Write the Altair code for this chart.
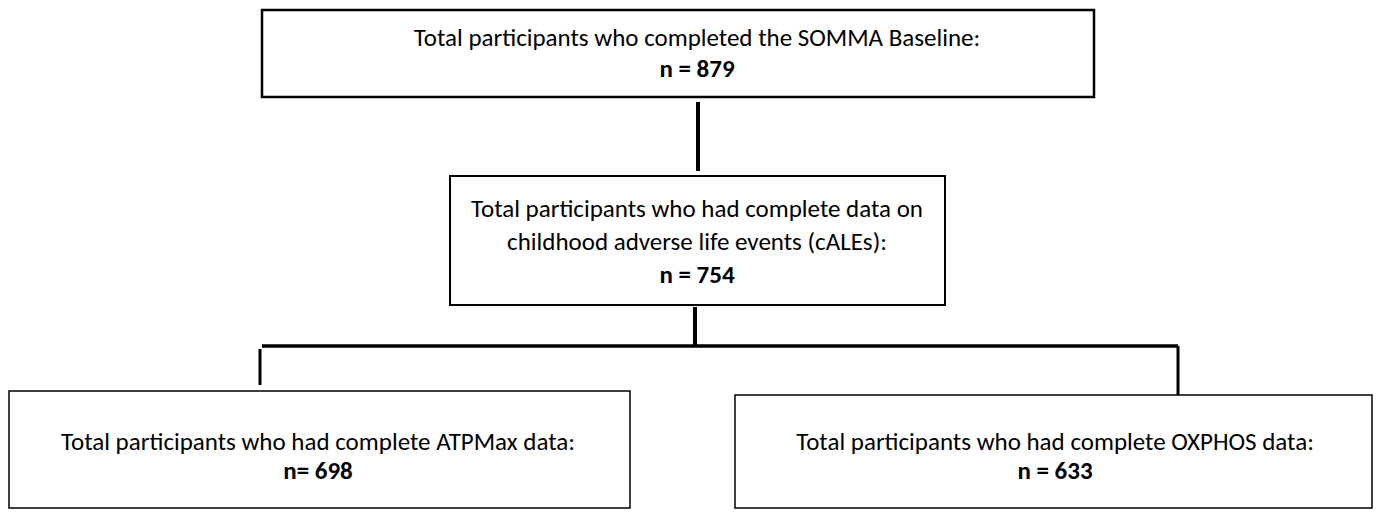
import altair as alt
import pandas as pd

# ---- content of the flow chart ----
box_ids = ["baseline", "cales", "atpmax", "oxphos"]
box_text = [
    ["Total participants who completed the SOMMA Baseline:"],
    ["Total participants who had complete data on", "childhood adverse life events (cALEs):"],
    ["Total participants who had complete ATPMax data:"],
    ["Total participants who had complete OXPHOS data:"],
]
box_counts = [879, 754, 698, 633]
count_prefix = ["n = ", "n = ", "n= ", "n = "]

# ---- layout (reference pixel coordinates) ----
box_x1 = [262, 450, 9, 735]
box_x2 = [1094, 945, 630, 1372]
box_y1 = [5, 171, 386, 390]
box_y2 = [92, 300, 503, 503]
box_sw = [2.5, 2.0, 1.5, 1.5]
box_cx = [697, 697, 318, 1055]
line_y = [[33, 64], [204, 237, 270], [437, 466], [437, 466]]

conn_x1 = [698, 695, 262, 260, 1178]
conn_x2 = [698, 695, 1178, 260, 1178]
conn_y1 = [97, 302, 341, 344, 341]
conn_y2 = [166, 341, 341, 380, 390]
conn_sw = [4, 4, 3.5, 3, 3]

W, H = 1365, 496
xs = alt.Scale(domain=[8, 8 + W], nice=False, zero=False)
ys = alt.Scale(domain=[8, 8 + H], nice=False, zero=False, reverse=True)

boxes = pd.DataFrame({"id": box_ids, "x1": box_x1, "x2": box_x2,
                      "y1": box_y1, "y2": box_y2, "sw": box_sw})
conns = pd.DataFrame({"x1": conn_x1, "x2": conn_x2, "y1": conn_y1,
                      "y2": conn_y2, "sw": conn_sw})

reg_rows, bold_rows = [], []
for i, lines in enumerate(box_text):
    for j, t in enumerate(lines):
        reg_rows.append({"x": box_cx[i], "y": line_y[i][j], "t": t})
    bold_rows.append({"x": box_cx[i], "y": line_y[i][-1],
                      "t": f"{count_prefix[i]}{box_counts[i]}"})
reg = pd.DataFrame(reg_rows)
bold = pd.DataFrame(bold_rows)

rect = alt.Chart(boxes).mark_rect(fill="white", stroke="black").encode(
    x=alt.X("x1:Q", scale=xs, axis=None),
    x2="x2:Q",
    y=alt.Y("y1:Q", scale=ys, axis=None),
    y2="y2:Q",
    strokeWidth=alt.StrokeWidth("sw:Q", scale=None),
)

rules = alt.Chart(conns).mark_rule(color="black").encode(
    x=alt.X("x1:Q", scale=xs, axis=None),
    x2="x2:Q",
    y=alt.Y("y1:Q", scale=ys, axis=None),
    y2="y2:Q",
    strokeWidth=alt.StrokeWidth("sw:Q", scale=None),
)

FONT = "Carlito, Lato, sans-serif"
FS = 25
txt = alt.Chart(reg).mark_text(font=FONT, fontSize=FS, color="black",
                               align="center", baseline="middle").encode(
    x=alt.X("x:Q", scale=xs, axis=None),
    y=alt.Y("y:Q", scale=ys, axis=None),
    text="t:N",
)
txtb = alt.Chart(bold).mark_text(font=FONT, fontSize=FS, fontWeight="bold",
                                 color="black", align="center",
                                 baseline="middle").encode(
    x=alt.X("x:Q", scale=xs, axis=None),
    y=alt.Y("y:Q", scale=ys, axis=None),
    text="t:N",
)

chart = alt.layer(rules, rect, txt, txtb).properties(
    width=W, height=H, padding=0, background="white"
).configure_view(stroke=None)

chart.save("out.html", embed_options={"renderer": "svg", "actions": False})
